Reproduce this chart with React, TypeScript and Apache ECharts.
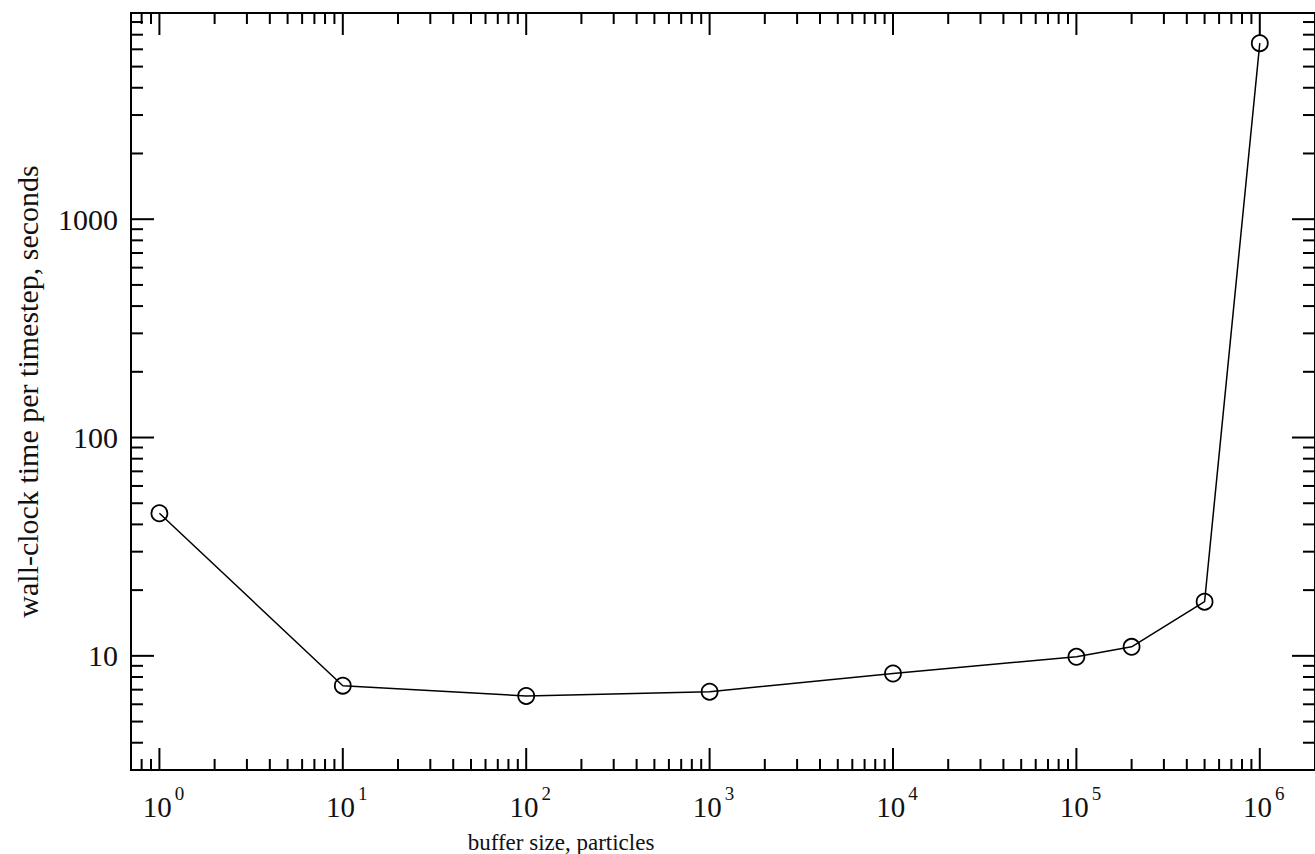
import React, { useEffect, useRef } from "react";
import * as echarts from "echarts";

// ---- data ----
const bufferSizes = [1, 10, 100, 1000, 10000, 100000, 200000, 500000, 1000000];
const wallClockSeconds = [45, 7.3, 6.55, 6.85, 8.3, 9.9, 11.0, 17.7, 6400];

const X_MIN = 0.7;
const X_MAX = 2000000;
const Y_MIN = 3;
const Y_MAX = 8800;

const xMajorTicks = [1, 10, 100, 1000, 10000, 100000, 1000000];
const yMajorTicks = [10, 100, 1000];
const minorMultipliers = [2, 3, 4, 5, 6, 7, 8, 9];
const xDecades = [0.1, 1, 10, 100, 1000, 10000, 100000, 1000000];
const yDecades = [1, 10, 100, 1000];

const xTitle = "buffer size, particles";
const yTitle = "wall-clock time per timestep, seconds";

const FONT = "'Liberation Serif', 'DejaVu Serif', 'Times New Roman', serif";

const minorOf = (decades: number[], lo: number, hi: number) => {
  const out: number[] = [];
  decades.forEach((d) =>
    minorMultipliers.forEach((m) => {
      const v = m * d;
      if (v > lo * 1.0001 && v < hi * 0.9999) out.push(v);
    })
  );
  return out;
};

const xMinorTicks = minorOf(xDecades, X_MIN, X_MAX);
const yMinorTicks = minorOf(yDecades, Y_MIN, Y_MAX);

const isPow10 = (v: number) => {
  const l = Math.log10(v);
  return Math.abs(l - Math.round(l)) < 1e-6;
};

const xTickSeries = (vals: number[], len: number) => ({
  type: "custom",
  coordinateSystem: "cartesian2d",
  silent: true,
  clip: false,
  z: 5,
  data: vals.map((v) => [v, Y_MIN]),
  renderItem: (params: any, api: any) => {
    const cs = params.coordSys;
    const x = api.coord([api.value(0), Y_MIN])[0];
    const top = cs.y;
    const bottom = cs.y + cs.height;
    const style = { stroke: "#000", lineWidth: 2 };
    return {
      type: "group",
      children: [
        { type: "line", shape: { x1: x, y1: bottom, x2: x, y2: bottom - len }, style },
        { type: "line", shape: { x1: x, y1: top, x2: x, y2: top + len }, style },
      ],
    };
  },
});

const yTickSeries = (vals: number[], len: number) => ({
  type: "custom",
  coordinateSystem: "cartesian2d",
  silent: true,
  clip: false,
  z: 5,
  data: vals.map((v) => [X_MIN, v]),
  renderItem: (params: any, api: any) => {
    const cs = params.coordSys;
    const y = api.coord([X_MIN, api.value(1)])[1];
    const left = cs.x;
    const right = cs.x + cs.width;
    const style = { stroke: "#000", lineWidth: 2 };
    return {
      type: "group",
      children: [
        { type: "line", shape: { x1: left, y1: y, x2: left + len, y2: y }, style },
        { type: "line", shape: { x1: right, y1: y, x2: right - len, y2: y }, style },
      ],
    };
  },
});

export default function App() {
  const ref = useRef<HTMLDivElement>(null);

  useEffect(() => {
    if (!ref.current) return;
    const chart = echarts.init(ref.current, undefined, { renderer: "svg" });
    chart.setOption({
      animation: false,
      backgroundColor: "#fff",
      grid: {
        left: 131,
        top: 13,
        width: 1190,
        height: 757,
        show: true,
        borderColor: "#000",
        borderWidth: 2,
        backgroundColor: "transparent",
      },
      xAxis: {
        type: "log",
        logBase: 10,
        min: X_MIN,
        max: X_MAX,
        axisLine: { show: false },
        axisTick: { show: false },
        splitLine: { show: false },
        axisLabel: {
          margin: 22,
          showMinLabel: false,
          showMaxLabel: false,
          formatter: (v: number) =>
            isPow10(v) ? `{b|10}{s|${Math.round(Math.log10(v))}}` : "",
          rich: {
            b: {
              fontFamily: FONT,
              fontSize: 29,
              lineHeight: 30,
              color: "#111",
              padding: [0, 0, 0, 8],
            },
            s: {
              fontFamily: FONT,
              fontSize: 19,
              lineHeight: 19,
              color: "#111",
              padding: [0, 0, 28, 3],
            },
          },
        },
      },
      yAxis: {
        type: "log",
        logBase: 10,
        min: Y_MIN,
        max: Y_MAX,
        axisLine: { show: false },
        axisTick: { show: false },
        splitLine: { show: false },
        name: yTitle,
        nameLocation: "middle",
        nameGap: 89,
        nameTextStyle: { fontFamily: FONT, fontSize: 30, color: "#111" },
        axisLabel: {
          margin: 13,
          showMinLabel: false,
          showMaxLabel: false,
          fontFamily: FONT,
          fontSize: 30,
          color: "#111",
          formatter: (v: number) => (isPow10(v) ? String(Math.round(v)) : ""),
        },
      },
      graphic: [
        {
          type: "text",
          x: 561,
          y: 842,
          style: {
            text: xTitle,
            fontFamily: FONT,
            fontSize: 23,
            fill: "#111",
            textAlign: "center",
            textVerticalAlign: "middle",
          },
        },
      ],
      series: [
        {
          type: "line",
          data: bufferSizes.map((x, i) => [x, wallClockSeconds[i]]),
          symbol: "circle",
          symbolSize: 16,
          showSymbol: true,
          lineStyle: { color: "#000", width: 1.5 },
          itemStyle: { color: "transparent", borderColor: "#000", borderWidth: 1.8 },
          z: 10,
        },
        xTickSeries(xMajorTicks, 22),
        xTickSeries(xMinorTicks, 11),
        yTickSeries(yMajorTicks, 23),
        yTickSeries(yMinorTicks, 12),
      ],
    });
    return () => chart.dispose();
  }, []);

  return (
    <div
      ref={ref}
      style={{ position: "fixed", left: 0, top: 0, width: 1315, height: 854, background: "#fff" }}
    />
  );
}
